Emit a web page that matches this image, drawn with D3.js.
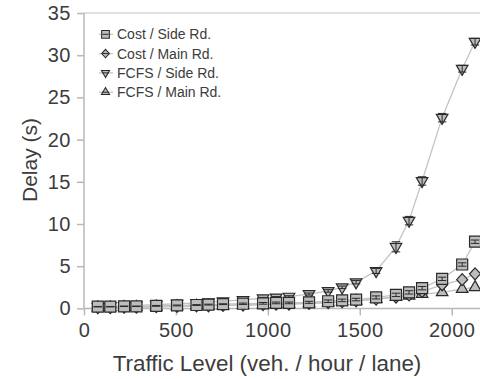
<!DOCTYPE html>
<html>
<head>
<meta charset="utf-8">
<script src="https://cdn.jsdelivr.net/npm/d3@7"></script>
<style>
  html, body { margin: 0; padding: 0; background: #fff; }
  svg { display: block; font-family: "Liberation Sans", Arial, sans-serif; }
</style>
</head>
<body>
<svg id="chart" width="480" height="379"></svg>
<script>
// ---- data ----
const traffic = [75, 143, 218, 285, 393, 506, 612, 677, 756, 865, 974, 1045, 1115, 1224, 1328, 1404, 1480, 1589, 1697, 1768, 1839, 1948, 2057, 2127];
const costSide = [0.2, 0.2, 0.25, 0.25, 0.3, 0.35, 0.4, 0.45, 0.5, 0.55, 0.6, 0.65, 0.65, 0.72, 0.85, 0.95, 1.05, 1.3, 1.6, 1.9, 2.4, 3.5, 5.2, 7.9];
const costMain = [0.1, 0.1, 0.15, 0.15, 0.2, 0.25, 0.3, 0.3, 0.35, 0.4, 0.45, 0.5, 0.5, 0.6, 0.7, 0.8, 0.9, 1.1, 1.35, 1.6, 2.0, 2.8, 3.4, 4.1];
const fcfsSide = [0.2, 0.25, 0.3, 0.35, 0.45, 0.55, 0.65, 0.75, 0.85, 1.0, 1.2, 1.3, 1.4, 1.7, 2.07, 2.5, 3.1, 4.44, 7.3, 10.4, 15.1, 22.6, 28.4, 31.6];
const fcfsMain = [0.1, 0.1, 0.15, 0.15, 0.2, 0.25, 0.3, 0.3, 0.35, 0.4, 0.45, 0.5, 0.55, 0.6, 0.7, 0.8, 0.9, 1.1, 1.35, 1.5, 1.7, 1.9, 2.3, 2.5];
const costSideErr = [0.03, 0.03, 0.03, 0.03, 0.05, 0.05, 0.05, 0.05, 0.05, 0.08, 0.1, 0.1, 0.1, 0.12, 0.15, 0.15, 0.15, 0.18, 0.2, 0.2, 0.2, 0.2, 0.2, 0.2];
const fcfsSideErr = [0.03, 0.03, 0.03, 0.03, 0.05, 0.05, 0.05, 0.05, 0.05, 0.08, 0.1, 0.1, 0.1, 0.12, 0.15, 0.15, 0.2, 0.3, 0.6, 0.5, 0.5, 0.5, 0.4, 0.4];
const seriesNames = ["Cost / Side Rd.", "Cost / Main Rd.", "FCFS / Side Rd.", "FCFS / Main Rd."];
const xTicks = [0, 500, 1000, 1500, 2000];
const yTicks = [0, 5, 10, 15, 20, 25, 30, 35];
const xTitle = "Traffic Level (veh. / hour / lane)";
const yTitle = "Delay (s)";

// ---- setup ----
const svg = d3.select("#chart");
const W = 480, H = 379;
const mLeft = 84, mTop = 13, mBottom = 308.4;
const x = d3.scaleLinear().domain([0, 2000]).range([mLeft, 451.7]);
const y = d3.scaleLinear().domain([0, 35]).range([mBottom, mTop]);

const axisColor = "#b8b8b8";
const textColor = "#3c3c3c";
const lineColor = "#c4c4c4";
const markStroke = "#2a2a2a";
const markFill = "#bdbdbd";

// shapes
const triPath = d3.symbol(d3.symbolTriangle, 58)();
const sqPath = d3.symbol(d3.symbolSquare, 121)();
const diamondPath = (s) => `M0,${-6*s}L${5.5*s},0L0,${6*s}L${-5.5*s},0Z`;

const series = [
  { name: seriesNames[3], vals: fcfsMain, err: null, path: triPath, rot: 0 },
  { name: seriesNames[2], vals: fcfsSide, err: fcfsSideErr, path: triPath, rot: 180 },
  { name: seriesNames[1], vals: costMain, err: null, path: diamondPath(1), rot: 0 },
  { name: seriesNames[0], vals: costSide, err: costSideErr, path: sqPath, rot: 0 }
];

// top frame line
svg.append("line").attr("x1", mLeft).attr("x2", W).attr("y1", mTop).attr("y2", mTop)
  .attr("stroke", "#d6d6d6").attr("stroke-width", 1.5);

// y axis
const yAxis = d3.axisLeft(y).tickValues(yTicks).tickSize(7).tickPadding(6).tickFormat(d3.format("d"));
const gy = svg.append("g").attr("transform", `translate(${mLeft},0)`).call(yAxis);
gy.select(".domain").remove();
gy.selectAll(".tick line").attr("stroke", axisColor).attr("stroke-width", 1.5);
gy.selectAll(".tick text").attr("fill", textColor).attr("font-size", 20).attr("letter-spacing", 0.5)
  .attr("font-family", "Liberation Sans, Arial, sans-serif");
svg.append("line").attr("x1", mLeft).attr("x2", mLeft).attr("y1", mTop).attr("y2", mBottom)
  .attr("stroke", axisColor).attr("stroke-width", 1.5);

// x axis
const xAxis = d3.axisBottom(x).tickValues(xTicks).tickSize(7).tickPadding(7).tickFormat(d3.format("d"));
const gx = svg.append("g").attr("transform", `translate(0,${mBottom})`).call(xAxis);
gx.select(".domain").remove();
gx.selectAll(".tick line").attr("stroke", axisColor).attr("stroke-width", 1.5);
gx.selectAll(".tick text").attr("fill", textColor).attr("font-size", 20).attr("letter-spacing", 0.5)
  .attr("font-family", "Liberation Sans, Arial, sans-serif");
svg.append("line").attr("x1", mLeft).attr("x2", W).attr("y1", mBottom).attr("y2", mBottom)
  .attr("stroke", axisColor).attr("stroke-width", 1.5);

// titles
svg.append("text").attr("x", 267).attr("y", 371).attr("text-anchor", "middle")
  .attr("font-size", 22.4).attr("fill", textColor).text(xTitle);
svg.append("text").attr("transform", `translate(37,160) rotate(-90)`).attr("text-anchor", "middle")
  .attr("font-size", 21).attr("fill", textColor).text(yTitle);

// lines
const plot = svg.append("g");
const lineGen = d3.line().x((d, i) => x(traffic[i])).y(d => y(d));
series.forEach(s => {
  plot.append("path").datum(s.vals).attr("d", lineGen)
    .attr("fill", "none").attr("stroke", lineColor).attr("stroke-width", 1.3);
});

// markers
series.forEach(s => {
  const g = plot.append("g");
  g.selectAll("path.m").data(s.vals).join("path").attr("class", "m")
    .attr("d", s.path)
    .attr("transform", (d, i) => `translate(${x(traffic[i])},${y(d)}) rotate(${s.rot})`)
    .attr("fill", markFill).attr("stroke", markStroke).attr("stroke-width", 1.2);
  if (s.err) {
    const eg = plot.append("g").attr("stroke", markStroke).attr("stroke-width", 1);
    s.vals.forEach((d, i) => {
      const cx = x(traffic[i]);
      const y1 = y(d - s.err[i]), y2 = y(d + s.err[i]);
      eg.append("line").attr("x1", cx).attr("x2", cx).attr("y1", y1).attr("y2", y2);
      eg.append("line").attr("x1", cx - 4.2).attr("x2", cx + 4.2).attr("y1", y1).attr("y2", y1);
      eg.append("line").attr("x1", cx - 4.2).attr("x2", cx + 4.2).attr("y1", y2).attr("y2", y2);
    });
  }
});

// legend
const legendOrder = [series[3], series[2], series[1], series[0]];
const lg = svg.append("g");
legendOrder.forEach((s, k) => {
  const cy = 34.3 + k * 19.3;
  const row = lg.append("g").attr("transform", `translate(0,${cy})`);
  row.append("line").attr("x1", 99).attr("x2", 113).attr("y1", 0).attr("y2", 0)
    .attr("stroke", lineColor).attr("stroke-width", 1.3);
  row.append("path").attr("d", s.path)
    .attr("transform", `translate(105.5,0) scale(0.7) rotate(${s.rot})`)
    .attr("fill", markFill).attr("stroke", markStroke).attr("stroke-width", 1.5);
  row.append("line").attr("x1", 102.5).attr("x2", 108.5).attr("y1", 0).attr("y2", 0)
    .attr("stroke", markStroke).attr("stroke-width", 1);
  row.append("text").attr("x", 117).attr("y", 5).attr("font-size", 14)
    .attr("fill", textColor).text(s.name);
});
</script>
</body>
</html>
